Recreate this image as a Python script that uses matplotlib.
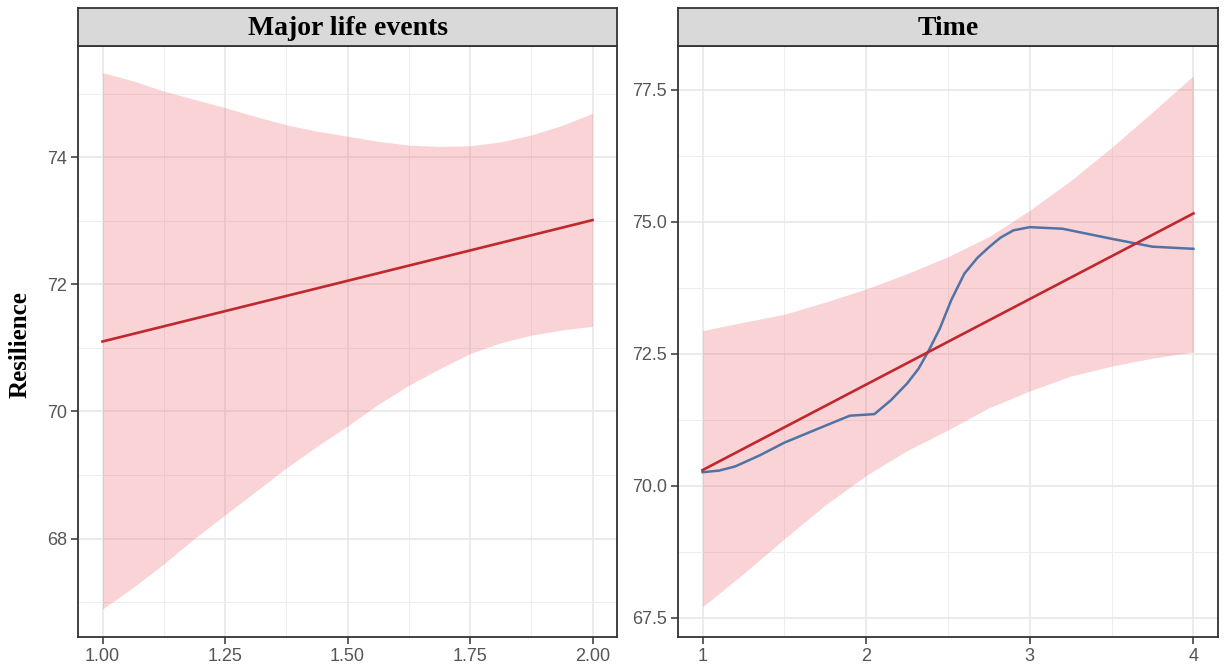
import matplotlib
matplotlib.use("Agg")
import matplotlib.pyplot as plt
from matplotlib.ticker import MultipleLocator

# Major life events panel
mle_x = [1.0, 1.0625, 1.125, 1.1875, 1.25, 1.3125, 1.375, 1.4375, 1.5, 1.5625,
         1.625, 1.6875, 1.75, 1.8125, 1.875, 1.9375, 2.0]
mle_upper = [75.33, 75.20, 75.04, 74.91, 74.78, 74.64, 74.51, 74.41, 74.33, 74.25,
             74.19, 74.17, 74.18, 74.24, 74.35, 74.50, 74.69]
mle_lower = [66.89, 67.23, 67.60, 68.00, 68.37, 68.74, 69.11, 69.45, 69.77, 70.11,
             70.41, 70.67, 70.91, 71.08, 71.20, 71.28, 71.34]
mle_fit_x = [1.0, 2.0]
mle_fit = [71.10, 73.01]

# Time panel
time_x = [1.0, 1.25, 1.5, 1.75, 2.0, 2.25, 2.5, 2.75, 3.0, 3.25, 3.5, 3.75, 4.0]
time_upper = [72.94, 73.10, 73.25, 73.48, 73.73, 74.02, 74.34, 74.72, 75.22, 75.78, 76.41, 77.08, 77.77]
time_lower = [67.71, 68.34, 69.00, 69.64, 70.20, 70.67, 71.06, 71.48, 71.80, 72.08, 72.27, 72.42, 72.54]
time_fit_x = [1.0, 4.0]
time_fit = [70.30, 75.16]
loess_x = [1.0, 1.1, 1.2, 1.35, 1.5, 1.75, 1.9, 2.05, 2.15, 2.25, 2.32, 2.38, 2.45, 2.52, 2.6,
           2.68, 2.75, 2.82, 2.9, 3.0, 3.2, 3.5, 3.75, 4.0]
loess_y = [70.26, 70.29, 70.37, 70.58, 70.82, 71.14, 71.33, 71.36, 71.62, 71.94, 72.22, 72.55,
           72.98, 73.52, 74.02, 74.32, 74.52, 74.70, 74.84, 74.90, 74.87, 74.68, 74.53, 74.49]

RIBBON = "#EE7A83"
RED = "#C0282E"
BLUE = "#4F73A5"
BORDER = "#333333"

W, H = 1225, 671


def rect(l, t, r, b):
    return [l / W, 1 - b / H, (r - l) / W, (b - t) / H]


def style(ax, xmaj, xmin, ymaj, ymin):
    ax.xaxis.set_major_locator(MultipleLocator(xmaj))
    ax.xaxis.set_minor_locator(MultipleLocator(xmin))
    ax.yaxis.set_major_locator(MultipleLocator(ymaj))
    ax.yaxis.set_minor_locator(MultipleLocator(ymin))
    ax.grid(which="major", color="#E6E6E6", lw=1.1)
    ax.grid(which="minor", color="#EDEDED", lw=0.7)
    ax.set_axisbelow(True)
    ax.tick_params(which="major", length=5, width=1.1, color=BORDER,
                   labelsize=13, labelcolor="#555555", pad=3)
    ax.tick_params(which="minor", length=0)
    for s in ax.spines.values():
        s.set_color(BORDER)
        s.set_linewidth(1.3)


def strip(l, r, title):
    sax = fig.add_axes(rect(l, 8, r, 46))
    sax.set_facecolor("#D9D9D9")
    sax.set_xticks([])
    sax.set_yticks([])
    for s in sax.spines.values():
        s.set_color(BORDER)
        s.set_linewidth(1.3)
    sax.text(0.5, 0.47, title, ha="center", va="center", fontsize=20,
             fontweight="bold", family="Liberation Serif", transform=sax.transAxes)


fig = plt.figure(figsize=(12.25, 6.71), dpi=100)

# left panel
ax1 = fig.add_axes(rect(78, 46, 617, 637))
ax1.fill_between(mle_x, mle_lower, mle_upper, color=RIBBON, alpha=0.33, lw=0)
ax1.plot(mle_fit_x, mle_fit, color=RED, lw=1.9)
ax1.set_xlim(0.95, 2.05)
ax1.set_ylim(66.45, 75.75)
style(ax1, 0.25, 0.125, 2, 1)
ax1.xaxis.set_major_formatter(lambda v, p: f"{v:.2f}")
strip(78, 617, "Major life events")

# right panel
ax2 = fig.add_axes(rect(678, 46, 1218, 637))
ax2.fill_between(time_x, time_lower, time_upper, color=RIBBON, alpha=0.33, lw=0)
ax2.plot(loess_x, loess_y, color=BLUE, lw=1.8)
ax2.plot(time_fit_x, time_fit, color=RED, lw=1.9)
ax2.set_xlim(0.85, 4.15)
ax2.set_ylim(67.14, 78.33)
style(ax2, 1, 0.5, 2.5, 1.25)
ax2.yaxis.set_major_formatter(lambda v, p: f"{v:.1f}")
ax2.xaxis.set_major_formatter(lambda v, p: f"{v:.0f}")
strip(678, 1218, "Time")

for ax in (ax1, ax2):
    for lab in ax.get_xticklabels() + ax.get_yticklabels():
        lab.set_fontfamily("Liberation Sans")

fig.text(20 / W, 1 - 345 / H, "Resilience", rotation=90, ha="center", va="center",
         fontsize=18, fontweight="bold", family="Liberation Serif")

fig.savefig("out.png", dpi=100)
